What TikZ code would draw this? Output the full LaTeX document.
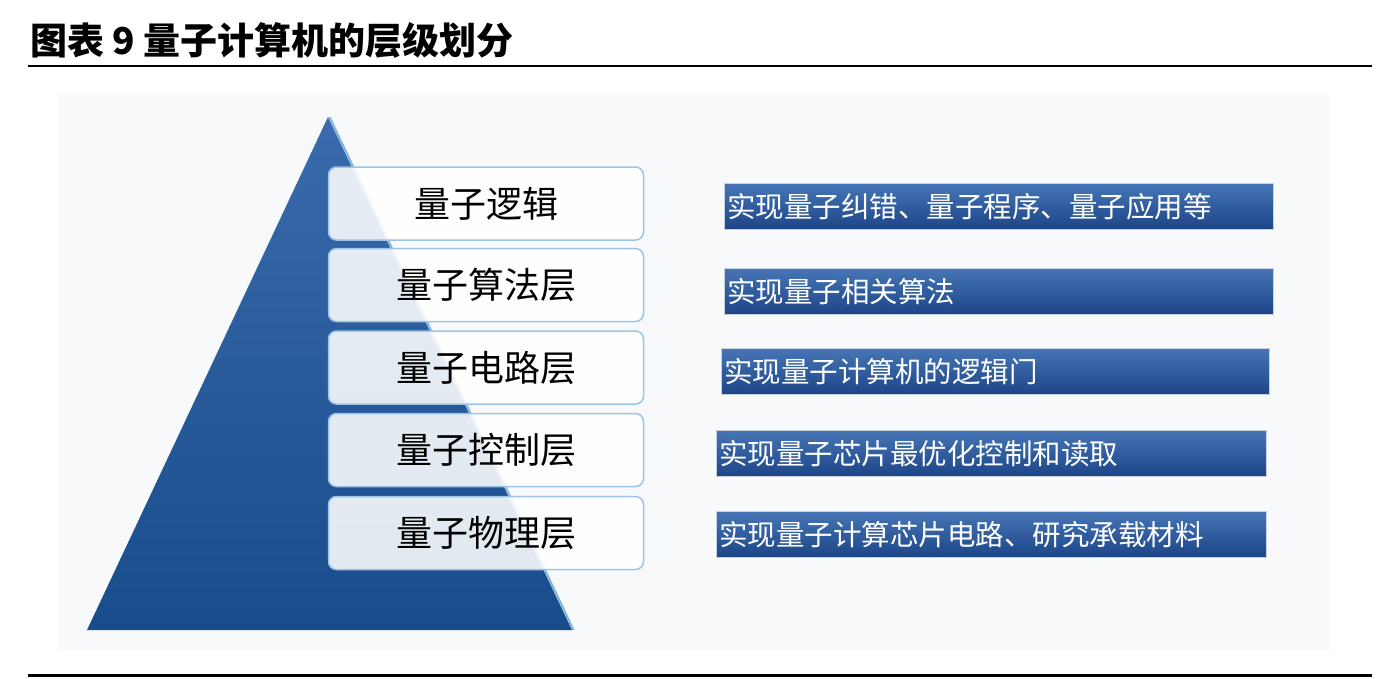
\documentclass[tikz,border=0pt]{standalone}
\usepackage{fontspec}
\setmainfont{Noto Sans CJK SC}
\usetikzlibrary{calc}
\definecolor{lyrline}{HTML}{9CC4E6}
\definecolor{bartop}{HTML}{4675B6}
\definecolor{barbot}{HTML}{1C4586}
\definecolor{bargrey}{HTML}{C9D1DC}
\definecolor{tritop}{HTML}{3A6BAC}
\definecolor{tribot}{HTML}{184C8B}
\definecolor{triedge}{HTML}{7FB2E0}
\definecolor{panel}{HTML}{F8F9FB}
\tikzset{
  layerbox/.style={draw=lyrline, line width=1.5pt, rounded corners=8pt,
    fill=white, fill opacity=0.88, text opacity=1,
    minimum width=315pt, minimum height=73pt, inner sep=0pt,
    font=\fontsize{36}{36}\selectfont, text=black},
  barbox/.style={draw=bargrey, line width=0.8pt, top color=bartop, bottom color=barbot,
    minimum height=46pt, inner xsep=3pt, inner ysep=0pt, anchor=north west,
    align=left, font=\fontsize{28.5}{28.5}\selectfont, text=white}
}
\begin{document}
\begin{tikzpicture}[x=1pt,y=-1pt]
\useasboundingbox (0,0) rectangle (1390,678);
\fill[white] (0,0) rectangle (1390,678);
% title
\node[anchor=west, inner sep=0pt, font=\fontsize{37}{37}\selectfont\bfseries] (title) at (30,40) {图表 9 量子计算机的层级划分};
\draw[line width=2pt] (28,66) -- (1372,66);
\draw[line width=3pt] (28,675) -- (1372,675);
% panel
\fill[panel] (58,95) rectangle (1330,650);
% pyramid
\coordinate (apex) at (328,117);
\coordinate (bl) at (87,630);
\coordinate (br) at (572,630);
\shade[top color=tritop, bottom color=tribot] (apex) -- (br) -- (bl) -- cycle;
\draw[triedge, line width=2pt] ($(apex)+(1.5,0)$) -- ($(br)+(1.5,0)$);
% layers
\node[layerbox] (l1) at (486,203.5) {量子逻辑};
\node[layerbox] (l2) at (486,285) {量子算法层};
\node[layerbox] (l3) at (486,367.5) {量子电路层};
\node[layerbox] (l4) at (486,450) {量子控制层};
\node[layerbox] (l5) at (486,533) {量子物理层};
% bars
\node[barbox, text width=543pt] (b1) at (724,183) {实现量子纠错、量子程序、量子应用等};
\node[barbox, text width=543pt] (b2) at (724,268) {实现量子相关算法};
\node[barbox, text width=542pt] (b3) at (721,348) {实现量子计算机的逻辑门};
\node[barbox, text width=544pt] (b4) at (716,430) {实现量子芯片最优化控制和读取};
\node[barbox, text width=544pt] (b5) at (716,511) {实现量子计算芯片电路、研究承载材料};
\end{tikzpicture}
\end{document}
